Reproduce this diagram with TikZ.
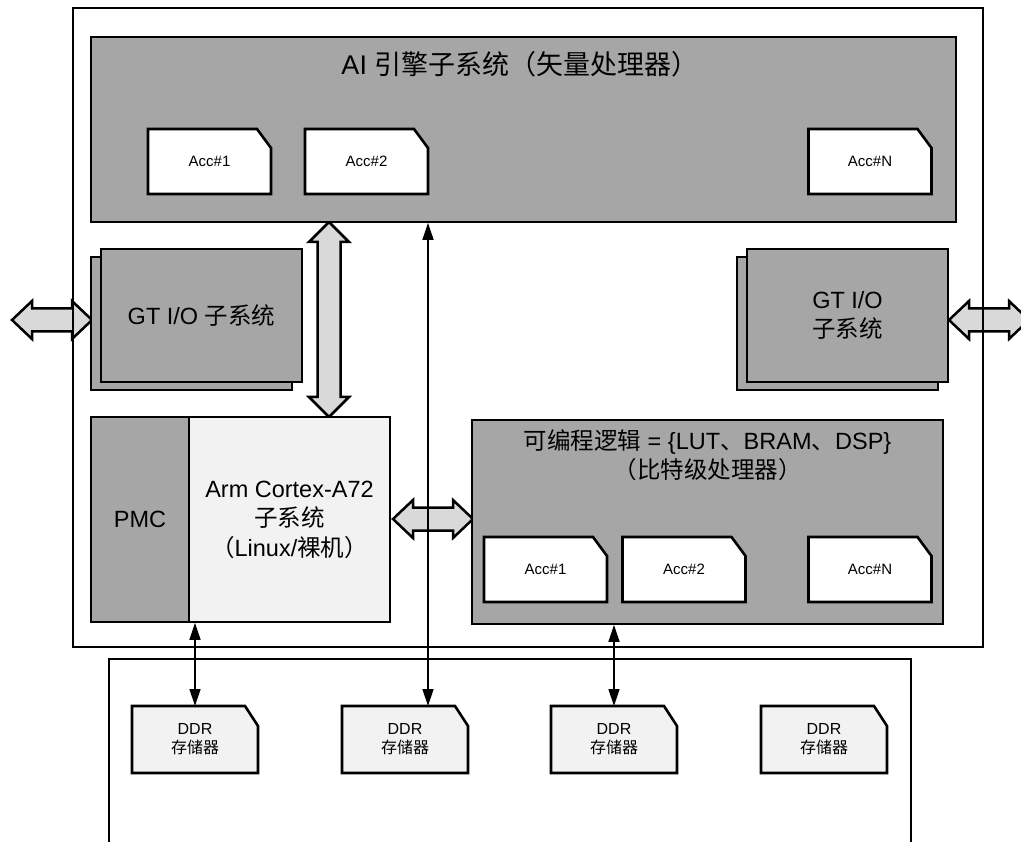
\documentclass[tikz,border=0pt]{standalone}
\usepackage{fontspec}
\setmainfont{Liberation Sans}
\newfontfamily\cjk{Noto Sans CJK SC}
\usetikzlibrary{arrows.meta}
\definecolor{boxgray}{HTML}{A6A6A6}
\definecolor{paleGray}{HTML}{F2F2F2}
\definecolor{arrowGray}{HTML}{D9D9D9}
\newcommand\mkcut[7]{%
  \node[#1geom] (#2) at (#3,#4) {};
  \draw[#1shape] (#2.south west) -- (#2.north west) -- ([xshift=-#6pt]#2.north east)
     -- ([yshift=-#7pt]#2.north east) -- (#2.south east) -- cycle;
  \node[#1font] at (#2) {#5};
}
\begin{document}
\begin{tikzpicture}[x=1pt,y=-1pt,
  bigfont/.style={font=\fontsize{23.5}{29.5}\selectfont},
  frame/.style={draw, line width=1.8pt},
  graybox/.style={draw, line width=1.6pt, fill=boxgray, inner sep=0pt, bigfont, align=center},
  palebox/.style={draw, line width=1.6pt, fill=paleGray, inner sep=0pt, bigfont, align=center},
  accgeom/.style={minimum width=123pt, minimum height=65pt, inner sep=0pt, outer sep=0pt},
  accshape/.style={draw, line width=2.6pt, fill=white, line join=miter},
  accfont/.style={inner sep=0pt, font=\fontsize{15}{18}\selectfont},
  ddrgeom/.style={minimum width=126pt, minimum height=67pt, inner sep=0pt, outer sep=0pt},
  ddrshape/.style={draw, line width=2.6pt, fill=paleGray, line join=miter},
  ddrfont/.style={inner sep=0pt, align=center, font=\fontsize{16}{19}\selectfont},
  fat/.style={draw, line width=2.5pt, fill=arrowGray, line join=miter},
  thin/.style={line width=1.4pt, {Triangle[length=17pt,width=11pt]}-{Triangle[length=17pt,width=11pt]}},
  txt/.style={inner sep=0pt, bigfont, align=center}
]
\clip (0,0) rectangle (1021,842);

% fat double arrows (drawn first, lines pass over them)
\coordinate (fvT) at (329,222);
\coordinate (flL) at (12,320);
\coordinate (frL) at (949,320);
\coordinate (fmL) at (393,519);
\draw[fat] (fvT) -- ++(20,20) -- ++(-8.5,0) -- ++(0,155) -- ++(8.5,0) -- ++(-20,20)
  -- ++(-20,-20) -- ++(8.5,0) -- ++(0,-155) -- ++(-8.5,0) -- cycle;
\foreach \c in {flL,frL,fmL}{
  \draw[fat] (\c) -- ++(20,-19) -- ++(0,7.5) -- ++(40,0) -- ++(0,-7.5) -- ++(20,19)
    -- ++(-20,19) -- ++(0,-7.5) -- ++(-40,0) -- ++(0,7.5) -- cycle;
}

% outer frames
\node[frame, minimum width=910pt, minimum height=639pt, inner sep=0pt] (outer) at (528,327.5) {};
\coordinate (bfA) at (109,842);
\coordinate (bfB) at (911,842);
\draw[line width=1.4pt] (bfA) -- (bfA |- 0,659) -- (bfB |- 0,659) -- (bfB);

% AI engine subsystem
\node[graybox, minimum width=865pt, minimum height=185pt] (ai) at (523.5,129.5) {};
\node[inner sep=0pt, font=\fontsize{27}{32}\selectfont] (aititle) at (520,64) {AI {\cjk 引擎子系统（矢量处理器）}};
\mkcut{acc}{acc1}{209.5}{161.5}{Acc\#1}{14}{19}
\mkcut{acc}{acc2}{366.5}{161.5}{Acc\#2}{14}{19}
\mkcut{acc}{accN}{870}{161.5}{Acc\#N}{14}{19}

% GT I/O subsystems
\node[graybox, minimum width=201pt, minimum height=133pt] (gtLb) at (191.5,323.5) {};
\node[graybox, minimum width=201pt, minimum height=133pt] (gtL) at (201.5,315.5) {GT I/O {\cjk 子系统}};
\node[graybox, minimum width=201pt, minimum height=133pt] (gtRb) at (837.5,323.5) {};
\node[graybox, minimum width=201pt, minimum height=133pt] (gtR) at (847.5,315.5) {GT I/O\\{\cjk 子系统}};

% PMC and Arm
\node[graybox, minimum width=98pt, minimum height=205pt] (pmc) at (140,519.5) {PMC};
\node[palebox, minimum width=201pt, minimum height=205pt] (arm) at (289.5,519.5)
  {Arm Cortex-A72\\{\cjk 子系统}\\{\cjk （}Linux/{\cjk 裸机）}};

% Programmable logic
\node[graybox, minimum width=471pt, minimum height=204pt] (pl) at (707.5,522) {};
\node[txt] (pltitle) at (707.5,455) {{\cjk 可编程逻辑} = \{LUT{\cjk 、}BRAM{\cjk 、}DSP\}\\{\cjk （比特级处理器）}};
\mkcut{acc}{pacc1}{545.5}{569.5}{Acc\#1}{14}{19}
\mkcut{acc}{pacc2}{684}{569.5}{Acc\#2}{14}{19}
\mkcut{acc}{paccN}{870}{569.5}{Acc\#N}{14}{19}

% DDR memories
\mkcut{ddr}{ddr1}{195}{739.5}{DDR\\{\cjk 存储器}}{13}{20}
\mkcut{ddr}{ddr2}{405}{739.5}{DDR\\{\cjk 存储器}}{13}{20}
\mkcut{ddr}{ddr3}{614}{739.5}{DDR\\{\cjk 存储器}}{13}{20}
\mkcut{ddr}{ddr4}{824}{739.5}{DDR\\{\cjk 存储器}}{13}{20}

% thin connectors
\draw[thin] (ddr1.north |- pmc.south) -- (ddr1.north);
\draw[thin] (ai.south -| acc2.east) -- (ddr2.north -| acc2.east);
\draw[thin] (ddr3.north |- pl.south) -- (ddr3.north);
\end{tikzpicture}
\end{document}
